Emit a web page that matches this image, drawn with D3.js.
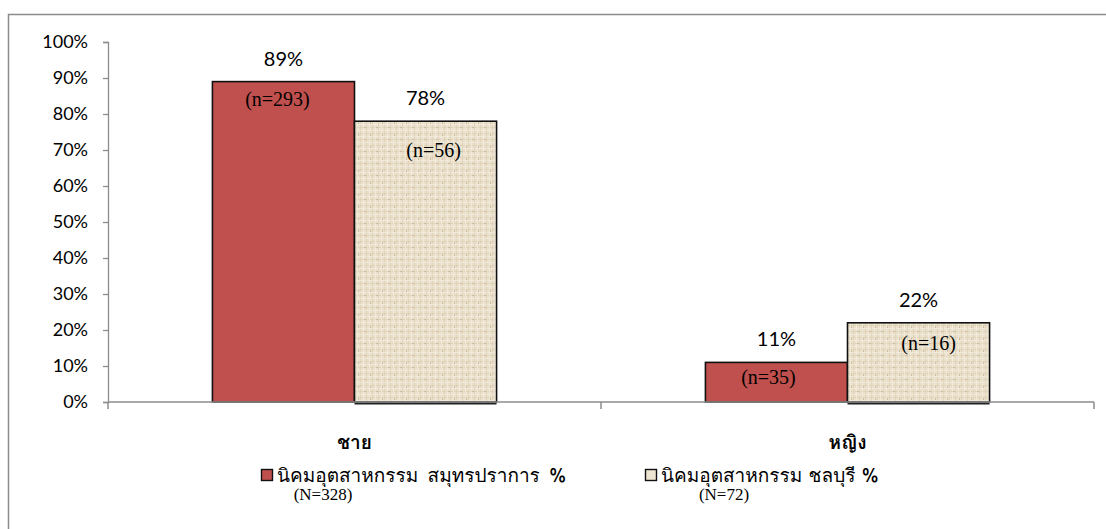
<!DOCTYPE html>
<html>
<head>
<meta charset="utf-8">
<script src="https://cdn.jsdelivr.net/npm/d3@7"></script>
<style>
  html, body { margin: 0; padding: 0; background: #fff; }
  svg { display: block; }
</style>
</head>
<body>
<svg id="chart" width="1106" height="529"></svg>
<script>
// Gender share of workers in two industrial estates
const categories = ["ชาย", "หญิง"];
const seriesNames = ["นิคมอุตสาหกรรม สมุทรปราการ %", "นิคมอุตสาหกรรม ชลบุรี %"];
const seriesTotals = ["(N=328)", "(N=72)"];
const samutPrakanPct = [89, 11];
const chonburiPct = [78, 22];
const samutPrakanN = [293, 35];
const chonburiN = [56, 16];
const yTicks = [0, 10, 20, 30, 40, 50, 60, 70, 80, 90, 100];

const series = [
  { name: seriesNames[0], total: seriesTotals[0], values: samutPrakanPct, counts: samutPrakanN },
  { name: seriesNames[1], total: seriesTotals[1], values: chonburiPct, counts: chonburiN }
];

const svg = d3.select("#chart");
const W = 1106, H = 529;
const plotLeft = 108, plotRight = 1094, plotTop = 42, plotBottom = 402;

const thaiFont = "Waree, Loma, Garuda, Tahoma, 'Noto Sans Thai Looped', 'Noto Sans Thai', sans-serif";
const latinFont = "Lato, Calibri, 'Liberation Sans', sans-serif";
const serifFont = "'Liberation Serif', 'Times New Roman', serif";

// texture for the second series: woven burlap look
const defs = svg.append("defs");
const pat = defs.append("pattern")
  .attr("id", "burlap")
  .attr("patternUnits", "userSpaceOnUse")
  .attr("width", 12).attr("height", 12);
pat.append("rect").attr("width", 12).attr("height", 12).attr("fill", "#eae0cb");
[[0, "#dccfb4"], [3, "#f4eee2"], [6, "#ded1b8"], [9, "#f2ebdc"]].forEach(([o, c]) => {
  pat.append("rect").attr("x", o).attr("y", 0).attr("width", 1).attr("height", 12).attr("fill", c).attr("opacity", 0.7);
  pat.append("rect").attr("x", 0).attr("y", o + 1).attr("width", 12).attr("height", 1).attr("fill", c).attr("opacity", 0.7);
});
pat.append("rect").attr("x", 4).attr("y", 7).attr("width", 2).attr("height", 1).attr("fill", "#cdbd9e");
pat.append("rect").attr("x", 10).attr("y", 2).attr("width", 1).attr("height", 2).attr("fill", "#cdbd9e");

const fills = ["#c0504d", "url(#burlap)"];
const swatchFills = ["#c0504d", "#eee4d0"];

// chart frame
svg.append("path")
  .attr("d", `M8.5,${H + 2} V14.5 H${W + 2}`)
  .attr("fill", "none").attr("stroke", "#8c8c8c").attr("stroke-width", 1.5);

const x0 = d3.scaleBand().domain(categories).range([plotLeft, plotRight]).paddingInner(0).paddingOuter(0);
const x1 = d3.scaleBand().domain([0, 1]).range([0, x0.bandwidth()]).paddingInner(0).paddingOuter(0.735);
const y = d3.scaleLinear().domain([0, 100]).range([plotBottom, plotTop]);

// y axis
const yAxis = svg.append("g")
  .attr("transform", `translate(${plotLeft},0)`)
  .call(d3.axisLeft(y).tickValues(yTicks).tickFormat(d => d + "%").tickSizeOuter(0).tickSize(5).tickPadding(15));
yAxis.select(".domain").attr("stroke", "#8c8c8c").attr("stroke-width", 1.3);
yAxis.selectAll(".tick line").attr("stroke", "#8c8c8c").attr("stroke-width", 1.3);
yAxis.selectAll(".tick text").attr("font-family", latinFont).attr("font-size", 18).attr("fill", "#000");

// bars
const groups = svg.append("g").selectAll("g")
  .data(categories)
  .join("g")
  .attr("transform", d => `translate(${x0(d)},0)`);

const barData = (c, ci) => series.map((s, si) => ({ si, ci, v: s.values[ci], n: s.counts[ci] }));

groups.selectAll("rect")
  .data((c, ci) => barData(c, ci))
  .join("rect")
  .attr("x", d => x1(d.si))
  .attr("y", d => y(d.v))
  .attr("width", x1.bandwidth())
  .attr("height", d => y(0) - y(d.v))
  .attr("fill", d => fills[d.si])
  .attr("stroke", "#111")
  .attr("stroke-width", 1.6);

// x axis (drawn over the bar bottoms)
const xAxis = svg.append("g").attr("transform", `translate(0,${plotBottom})`);
xAxis.append("line")
  .attr("x1", plotLeft).attr("x2", plotRight)
  .attr("stroke", "#8c8c8c").attr("stroke-width", 1.5);
xAxis.selectAll("line.tk")
  .data([plotLeft, ...categories.map(c => x0(c) + x0.bandwidth())])
  .join("line").attr("class", "tk")
  .attr("x1", d => d).attr("x2", d => d)
  .attr("y1", 0).attr("y2", 7)
  .attr("stroke", "#8c8c8c").attr("stroke-width", 1.5);
xAxis.selectAll("text")
  .data(categories)
  .join("text")
  .attr("x", d => x0(d) + x0.bandwidth() / 2)
  .attr("y", 47)
  .attr("text-anchor", "middle")
  .attr("font-family", thaiFont)
  .attr("font-weight", "bold")
  .attr("font-size", 19)
  .text(d => d);

// dark base under textured bars
groups.selectAll("line.base")
  .data((c, ci) => barData(c, ci).filter(d => d.si === 1))
  .join("line").attr("class", "base")
  .attr("x1", d => x1(d.si)).attr("x2", d => x1(d.si) + x1.bandwidth())
  .attr("y1", plotBottom + 1.5).attr("y2", plotBottom + 1.5)
  .attr("stroke", "#222").attr("stroke-width", 2);

// value labels
groups.selectAll("text.pct")
  .data((c, ci) => barData(c, ci))
  .join("text").attr("class", "pct")
  .attr("x", d => x1(d.si) + x1.bandwidth() / 2)
  .attr("y", d => y(d.v) - 16)
  .attr("text-anchor", "middle")
  .attr("font-family", latinFont)
  .attr("font-size", 20)
  .text(d => d.v + "%");

// sample-size labels inside the bars
const nShift = [[[-6, 24], [8, 36]], [[-8, 22], [10, 27]]];
groups.selectAll("text.n")
  .data((c, ci) => barData(c, ci))
  .join("text").attr("class", "n")
  .attr("x", d => x1(d.si) + x1.bandwidth() / 2 + nShift[d.ci][d.si][0])
  .attr("y", d => y(d.v) + nShift[d.ci][d.si][1])
  .attr("text-anchor", "middle")
  .attr("font-family", serifFont)
  .attr("font-size", 20)
  .text(d => `(n=${d.n})`);

// legend
const legendX = [261, 645];
const legend = svg.append("g").selectAll("g")
  .data(series)
  .join("g")
  .attr("transform", (d, i) => `translate(${legendX[i]},0)`);
legend.append("rect")
  .attr("x", 0.5).attr("y", 469.5).attr("width", 11).attr("height", 11)
  .attr("fill", (d, i) => swatchFills[i])
  .attr("stroke", "#111").attr("stroke-width", 1.4);
legend.append("text")
  .attr("x", 16).attr("y", 482)
  .attr("font-family", thaiFont)
  .attr("font-weight", "normal")
  .attr("font-size", 19)
  .attr("word-spacing", (d, i) => i === 0 ? 3 : 0)
  .text(d => d.name);
legend.append("text")
  .attr("x", (d, i) => [62, 79][i]).attr("y", 500)
  .attr("text-anchor", "middle")
  .attr("font-family", serifFont)
  .attr("font-size", 17)
  .text(d => d.total);
</script>
</body>
</html>
